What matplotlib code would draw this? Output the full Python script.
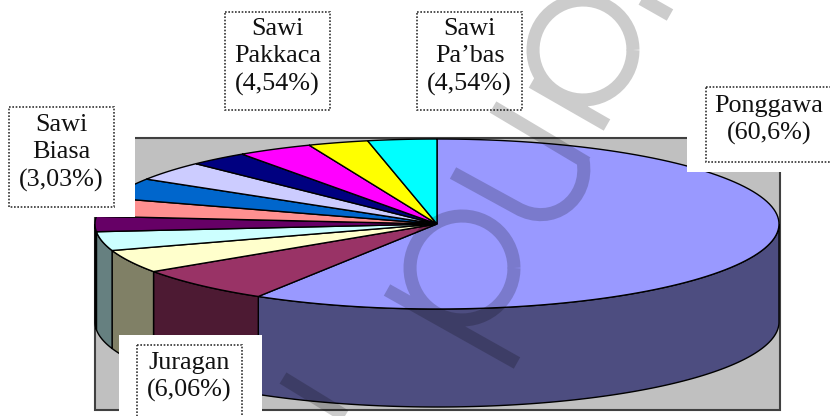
import numpy as np
import matplotlib
matplotlib.use("Agg")
import matplotlib.pyplot as plt
from matplotlib.patches import Polygon, Rectangle, PathPatch
from matplotlib.path import Path

# slice shares as drawn (the chart's 3D view squeezes them), going round from 12 o'clock
names = ["Ponggawa", "Juragan", "Kuning", "Cyan muda", "Ungu", "Merah muda", "Biru",
         "Lavender", "Navy", "Sawi Biasa", "Sawi Pakkaca", "Sawi Pa'bas"]
shares = [58.75, 6.8, 4.4, 3.6, 2.9, 3.5, 3.9, 3.7, 2.8, 3.55, 2.85, 3.25]
top_colors = ["#9999FF", "#993366", "#FFFFCC", "#CCFFFF", "#660066", "#FF9090", "#0066CC",
              "#CCCCFF", "#000080", "#FF00FF", "#FFFF00", "#00FFFF"]
side_colors = ["#4D4D80", "#4D1A33", "#808066", "#668080", "#330033", "#804040", "#003366",
               "#666680", "#000040", "#800080", "#808000", "#008080"]

label_texts = ["Sawi\nBiasa\n(3,03%)", "Sawi\nPakkaca\n(4,54%)", "Sawi\nPa\u2019bas\n(4,54%)",
               "Ponggawa\n(60,6%)", "Juragan\n(6,06%)"]
label_boxes = [(9, 107, 114, 207), (225, 12, 330, 110), (417, 12, 522, 110),
               (706, 87, 832, 162), (137, 345, 242, 424)]
label_y = [153, 57, 57, 120, 377]
white_cuts = [(0, 100, 135, 217), (119, 335, 262, 416), (687, 80, 830, 172)]

# grey watermark letters lying across the picture
wm_stems = [((387, 290), (517, 363)), ((453, 173), (517, 208)), ((493, 107), (587, 163)),
            ((532, 82), (607, 125)), ((670, 15), (640, -2)), ((283, 378), (345, 416))]
wm_rings = [(462, 268, 52), (583, 50, 50)]

cx, cy, rx, ry, depth = 437, 224, 342, 85, 98

fig = plt.figure(figsize=(8.3, 4.16), dpi=100)
ax = fig.add_axes([0, 0, 1, 1])
ax.set_xlim(0, 830)
ax.set_ylim(416, 0)
ax.axis("off")

ax.add_patch(Rectangle((95, 138), 685, 272, fc="#C0C0C0", ec="#404040", lw=1.5, zorder=1))


def rim(a0, a1, dy=0):
    # angles clockwise from 12 o'clock, degrees
    t = np.radians(np.linspace(a0, a1, 120))
    return np.column_stack([cx + rx*np.sin(t), cy - ry*np.cos(t) + dy])


edges = np.concatenate([[0], np.cumsum(shares)]) / sum(shares) * 360

# side wall, only the front half of the disc shows
for i in range(len(shares)):
    a0, a1 = max(edges[i], 90), min(edges[i+1], 270)
    if a1 <= a0:
        continue
    poly = np.vstack([rim(a0, a1), rim(a0, a1, depth)[::-1]])
    ax.add_patch(Polygon(poly, fc=side_colors[i], ec="black", lw=1, zorder=2))

for i in range(len(shares)):
    poly = np.vstack([[cx, cy], rim(edges[i], edges[i+1])])
    ax.add_patch(Polygon(poly, fc=top_colors[i], ec="black", lw=1, zorder=3))

# the label boxes sit on white and hide bits of the plot
for x0, y0, x1, y1 in white_cuts:
    ax.add_patch(Rectangle((x0, y0), x1-x0, y1-y0, fc="white", ec="none", zorder=4))

for txt, (x0, y0, x1, y1), yc in zip(label_texts, label_boxes, label_y):
    ax.add_patch(Rectangle((x0, y0), x1-x0, y1-y0, fc="white", ec="#333333", lw=1.2,
                           ls=(0, (1, 1)), zorder=5))
    ax.text((x0+x1)/2, yc, txt, ha="center", va="center", family="Liberation Serif",
            fontsize=18.8, color="#111111", linespacing=1.32, zorder=6)

# watermark goes in one path so that crossings do not get darker
verts, codes = [], []
for a, b in wm_stems:
    verts += [a, b]
    codes += [Path.MOVETO, Path.LINETO]
verts += [(517, 208), (552, 228), (590, 200), (583, 160)]
codes += [Path.MOVETO, Path.CURVE4, Path.CURVE4, Path.CURVE4]
for x, y, r in wm_rings:
    t = np.linspace(0, 2*np.pi, 60)
    verts += list(zip(x + r*np.cos(t), y + r*np.sin(t)))
    codes += [Path.MOVETO] + [Path.LINETO]*59
ax.add_patch(PathPatch(Path(verts, codes), fc="none", ec="black", alpha=0.2, lw=9.4,
                       capstyle="butt", zorder=7))

fig.savefig("out.png", dpi=100)
